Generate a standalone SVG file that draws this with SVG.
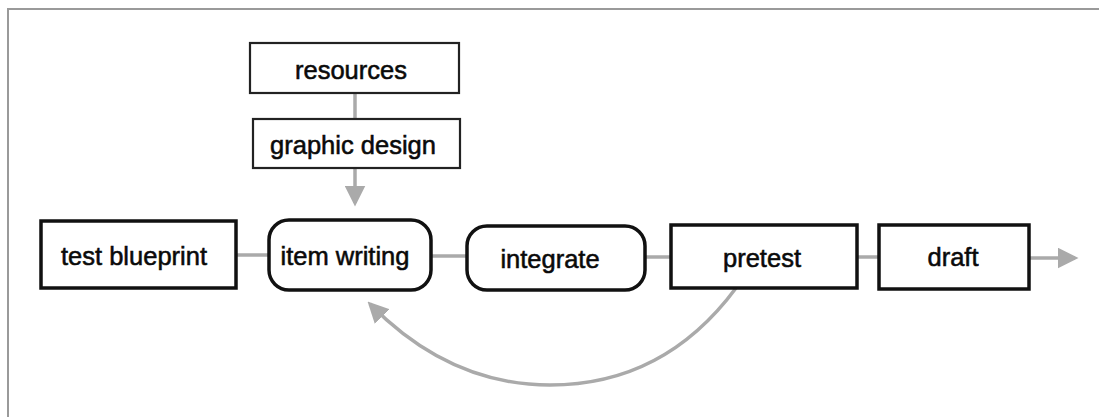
<svg xmlns="http://www.w3.org/2000/svg" width="1099" height="417" viewBox="0 0 1099 417">
  <style>
    .frame { stroke: #9a9a9a; stroke-width: 2; fill: none; }
    .box { fill: #ffffff; stroke: #111111; stroke-width: 3.5; }
    .small { fill: #ffffff; stroke: #222222; stroke-width: 2.2; }
    .label { font-family: "Liberation Sans", Arial, sans-serif; font-size: 25.5px; fill: #0a0a0a; stroke: #0a0a0a; stroke-width: 0.55; text-anchor: middle; }
    .conn { stroke: #aaaaaa; stroke-width: 3.5; fill: none; }
  </style>
  <defs>
    <marker id="arrow" markerWidth="6" markerHeight="6" refX="5" refY="3" orient="auto" markerUnits="strokeWidth">
      <path d="M0,0 L6,3 L0,6 Z" fill="#aaaaaa"/>
    </marker>
  </defs>

  <rect width="1099" height="417" fill="#ffffff"/>
  <!-- page frame: top and left edges -->
  <path class="frame" d="M8,417 L8,9 L1099,9"/>

  <g id="connectors">
    <line class="conn" x1="355" y1="93" x2="355" y2="119"/>
    <line class="conn" x1="355" y1="168" x2="355" y2="203" marker-end="url(#arrow)"/>
    <line class="conn" x1="236" y1="255" x2="269" y2="255"/>
    <line class="conn" x1="431" y1="256" x2="467" y2="256"/>
    <line class="conn" x1="645" y1="257" x2="671" y2="257"/>
    <line class="conn" x1="857" y1="257" x2="879" y2="257"/>
    <line class="conn" x1="1029" y1="258" x2="1075" y2="258" marker-end="url(#arrow)"/>
    <path class="conn" d="M736,288 C690,350 630,385 550,385 C480,385 420,355 370,304" marker-end="url(#arrow)"/>
  </g>

  <g id="resources">
    <rect class="small" x="250" y="43" width="209" height="50"/>
    <text class="label" x="351" y="79">resources</text>
  </g>
  <g id="graphic-design">
    <rect class="small" x="253" y="119" width="207" height="49"/>
    <text class="label" x="353" y="154">graphic design</text>
  </g>
  <g id="test-blueprint">
    <rect class="box" x="41" y="221" width="195" height="67"/>
    <text class="label" x="134" y="265">test blueprint</text>
  </g>
  <g id="item-writing">
    <rect class="box" x="269" y="220" width="162" height="70" rx="20"/>
    <text class="label" x="345" y="265">item writing</text>
  </g>
  <g id="integrate">
    <rect class="box" x="467" y="226" width="178" height="64" rx="20"/>
    <text class="label" x="550" y="268">integrate</text>
  </g>
  <g id="pretest">
    <rect class="box" x="671" y="225" width="186" height="63"/>
    <text class="label" x="762" y="267">pretest</text>
  </g>
  <g id="draft">
    <rect class="box" x="879" y="225" width="150" height="64"/>
    <text class="label" x="953" y="266">draft</text>
  </g>
</svg>
